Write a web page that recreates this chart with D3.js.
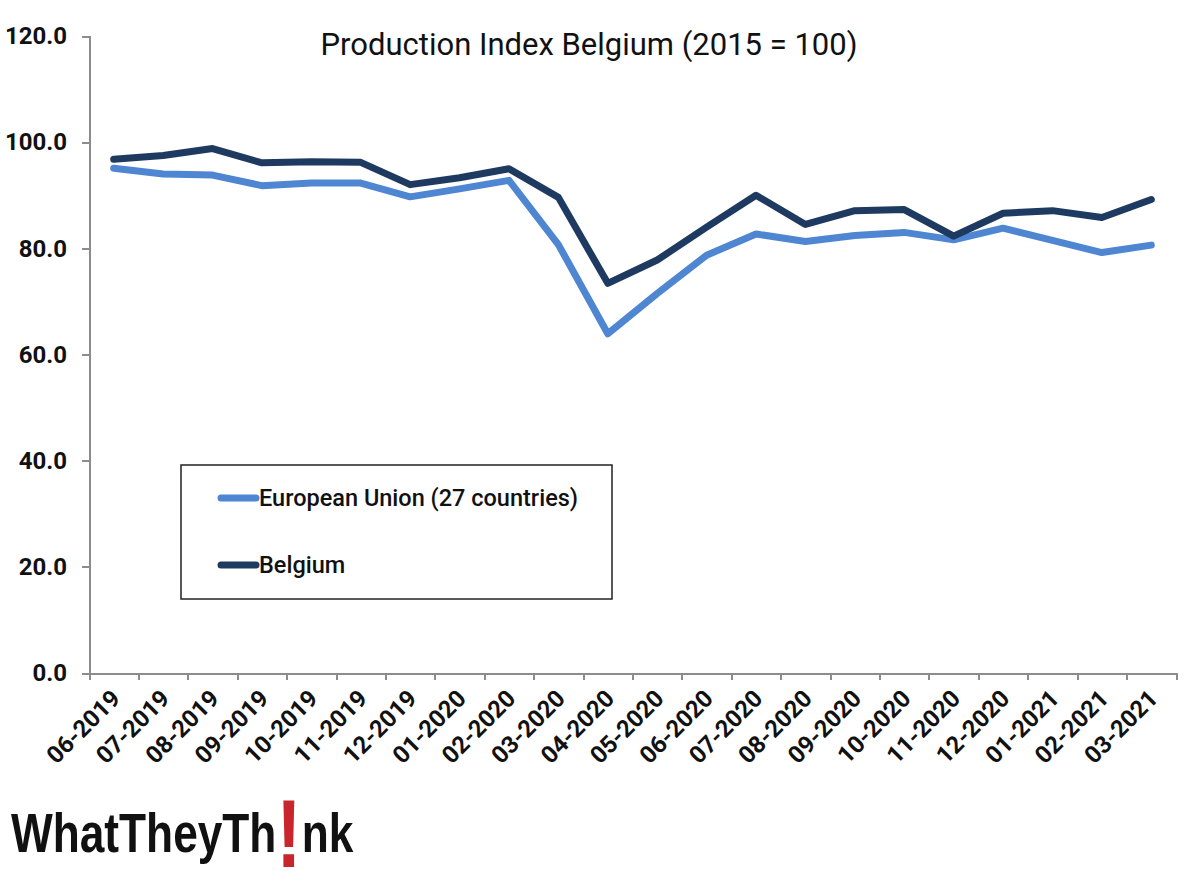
<!DOCTYPE html>
<html>

<head>
  <meta charset="utf-8">
  <style>
    body {
      margin: 0px;
      padding: 0px;
      background-color: white;
    }

    svg {
      display: block;
    }

    text {
      font-family: Roboto, "Liberation Sans", sans-serif;
      fill: #111;
    }

    .axis path,
    .axis line {
      stroke: #8c8c8c;
      stroke-width: 2px;
      shape-rendering: crispEdges;
    }

    .axis text {
      font-size: 24px;
      font-weight: bold;
      fill: #111;
      font-family: Roboto, "Liberation Sans", sans-serif;
    }
  </style>
</head>

<body>
  <div id="chart"></div>
  <script src="https://cdnjs.cloudflare.com/ajax/libs/d3/7.8.5/d3.min.js"></script>
  <script>
    var months = ["06-2019", "07-2019", "08-2019", "09-2019", "10-2019", "11-2019", "12-2019", "01-2020", "02-2020", "03-2020", "04-2020",
      "05-2020", "06-2020", "07-2020", "08-2020", "09-2020", "10-2020", "11-2020", "12-2020", "01-2021", "02-2021", "03-2021"];
    var euValues = [95.1, 94.0, 93.8, 91.8, 92.3, 92.3, 89.7, 91.2, 92.8, 80.7, 63.9, 71.5, 78.7, 82.7, 81.3, 82.4, 83.0, 81.6, 83.8, 81.5, 79.2, 80.6];
    var belgiumValues = [96.8, 97.5, 98.8, 96.1, 96.3, 96.2, 92.0, 93.3, 95.0, 89.6, 73.4, 77.8, 84.0, 90.0, 84.5, 87.1, 87.3, 82.3, 86.6, 87.1, 85.8, 89.2];
    var yTicks = [0, 20, 40, 60, 80, 100, 120];
    var seriesNames = ["European Union (27 countries)", "Belgium"];
    var seriesColors = ["#4f86d2", "#1f3a60"];

    var svgWidth = 1200,
      svgHeight = 871,
      plotLeft = 89,
      plotRight = 1176,
      plotTop = 36,
      plotBottom = 673;

    var svg = d3.select("#chart").append("svg")
      .attr("width", svgWidth)
      .attr("height", svgHeight);

    var x = d3.scaleBand().domain(months).range([plotLeft, plotRight]);
    var y = d3.scaleLinear().domain([0, 120]).range([plotBottom, plotTop]);

    // ticks sit between the categories, so the axis runs on a plain index scale
    var xEdges = d3.scaleLinear().domain([0, months.length]).range([plotLeft, plotRight]);

    svg.append("g")
      .attr("class", "axis")
      .attr("transform", "translate(" + plotLeft + ",0)")
      .call(d3.axisLeft(y).tickValues(yTicks).tickFormat(d3.format(".1f")).tickSizeOuter(0).tickSize(7).tickPadding(15));

    svg.append("g")
      .attr("class", "axis")
      .attr("transform", "translate(0," + plotBottom + ")")
      .call(d3.axisBottom(xEdges).tickValues(d3.range(months.length + 1)).tickFormat("").tickSizeOuter(0).tickSize(7));

    svg.append("g")
      .selectAll("text")
      .data(months)
      .enter()
      .append("text")
      .attr("transform", function(d) {
        return "translate(" + (x(d) + x.bandwidth() / 2 + 8) + "," + (plotBottom + 27) + ") rotate(-45)";
      })
      .attr("text-anchor", "end")
      .style("font-size", "24px")
      .style("font-weight", "bold")
      .text(function(d) {
        return d;
      });

    var line = d3.line()
      .x(function(d, i) {
        return x(months[i]) + x.bandwidth() / 2;
      })
      .y(function(d) {
        return y(d);
      })
      .curve(d3.curveLinear);

    [euValues, belgiumValues].forEach(function(values, i) {
      svg.append("path")
        .attr("d", line(values))
        .attr("fill", "none")
        .attr("stroke", seriesColors[i])
        .attr("stroke-width", 7)
        .attr("stroke-linecap", "round")
        .attr("stroke-linejoin", "round");
    });

    svg.append("text")
      .attr("x", 589)
      .attr("y", 55)
      .attr("text-anchor", "middle")
      .style("font-size", "31px")
      .text("Production Index Belgium (2015 = 100)");

    // legend
    svg.append("rect")
      .attr("x", 181)
      .attr("y", 465)
      .attr("width", 431)
      .attr("height", 134)
      .attr("fill", "white")
      .attr("stroke", "#222")
      .attr("stroke-width", 1.5);

    seriesNames.forEach(function(name, i) {
      var rowY = 498 + i * 67;
      svg.append("line")
        .attr("x1", 221)
        .attr("x2", 256)
        .attr("y1", rowY)
        .attr("y2", rowY)
        .attr("stroke", seriesColors[i])
        .attr("stroke-width", 7)
        .attr("stroke-linecap", "round");
      svg.append("text")
        .attr("x", 259)
        .attr("y", rowY + 8)
        .style("font-size", "23.5px")
        .style("font-weight", "500")
        .text(name);
    });

    // logo, squeezed sideways because no condensed heavy face is installed
    var logo = svg.append("text")
      .attr("transform", "translate(11,852) scale(0.79,1)")
      .style("font-family", "'Liberation Sans', sans-serif")
      .style("font-size", "56px")
      .style("font-weight", "bold");
    logo.append("tspan").text("WhatTheyTh");
    logo.append("tspan")
      .attr("dy", 15)
      .style("fill", "#c9252c")
      .style("font-size", "96px")
      .text("!");
    logo.append("tspan")
      .attr("dy", -15)
      .text("nk");
  </script>
</body>

</html>
